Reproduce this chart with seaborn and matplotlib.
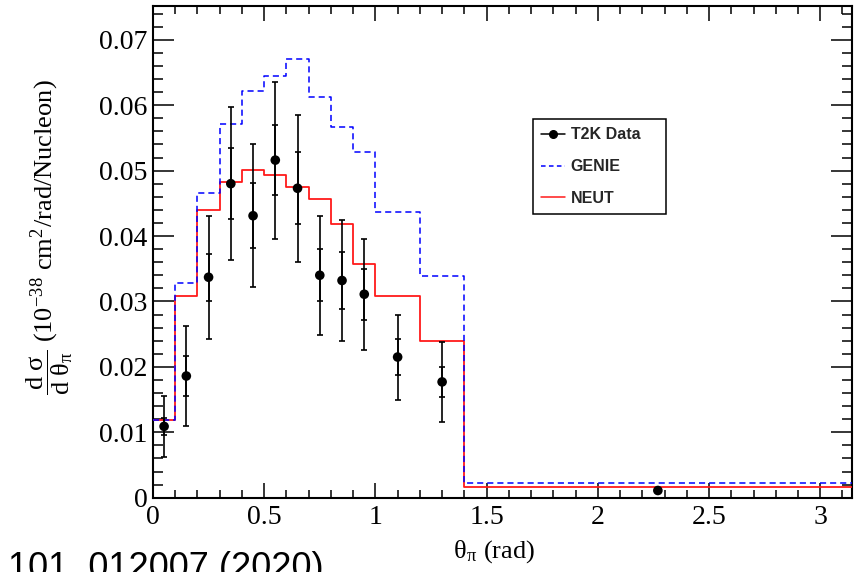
import numpy as np
import pandas as pd
import matplotlib
matplotlib.use("Agg")
import matplotlib.pyplot as plt
from matplotlib.lines import Line2D
from matplotlib.ticker import MultipleLocator, FuncFormatter
import seaborn as sns

# Pion-angle binning (rad)
bin_edges = [0.0, 0.1, 0.2, 0.3, 0.4, 0.5, 0.6, 0.7, 0.8, 0.9, 1.0, 1.2, 1.4, np.pi]

# Measured cross section at bin centres, with total and statistical errors
data_theta = [0.05, 0.15, 0.25, 0.35, 0.45, 0.55, 0.65, 0.75, 0.85, 0.95, 1.1, 1.3, 2.27]
data_xsec = [0.0109, 0.0186, 0.0337, 0.0480, 0.0431, 0.0516, 0.0473,
             0.0340, 0.0332, 0.0311, 0.0215, 0.0177, 0.0011]
data_err_total = [0.0047, 0.0077, 0.0094, 0.0117, 0.0109, 0.0120, 0.0112,
                  0.0091, 0.0092, 0.0085, 0.0065, 0.0061, 0.0003]
data_err_stat = [0.0013, 0.0030, 0.0036, 0.0054, 0.0050, 0.0054, 0.0055,
                 0.0040, 0.0043, 0.0039, 0.0028, 0.0023, 0.0002]

# Generator predictions per bin
genie_xsec = [0.0118, 0.0328, 0.0466, 0.0571, 0.0621, 0.0644, 0.0670,
              0.0613, 0.0567, 0.0529, 0.0436, 0.0339, 0.00225]
neut_xsec = [0.0118, 0.0309, 0.0440, 0.0483, 0.0501, 0.0494, 0.0475,
             0.0456, 0.0419, 0.0357, 0.0308, 0.0239, 0.00164]

series_labels = ["T2K Data", "GENIE", "NEUT"]

sns.set_theme(style="ticks")
plt.rcParams["font.family"] = ["Liberation Serif", "DejaVu Serif"]
plt.rcParams["mathtext.fontset"] = "stix"

fig = plt.figure(figsize=(8.56, 5.72), dpi=100)
ax = fig.add_axes([0.1787, 0.1299, 0.9950 - 0.1787, 0.9900 - 0.1299])

# Step histograms: repeat the last value so the final bin reaches the edge
steps = pd.DataFrame({
    "theta": bin_edges,
    "GENIE": genie_xsec + [genie_xsec[-1]],
    "NEUT": neut_xsec + [neut_xsec[-1]],
})
sns.lineplot(data=steps, x="theta", y="NEUT", drawstyle="steps-post",
             color="#ff1a1a", linewidth=1.3, ax=ax, zorder=3)
sns.lineplot(data=steps, x="theta", y="GENIE", drawstyle="steps-post",
             color="#0000ff", linewidth=1.1, ax=ax, zorder=4)
ax.lines[-1].set_dashes((4, 2.6))

# Data: total error bars, inner statistical markers, then points
ax.errorbar(data_theta, data_xsec, yerr=data_err_total, fmt="none",
            ecolor="black", elinewidth=1.2, capsize=2.2, capthick=1.2, zorder=5)
ax.errorbar(data_theta, data_xsec, yerr=data_err_stat, fmt="none",
            ecolor="black", elinewidth=1.2, capsize=2.2, capthick=1.2, zorder=5)
sns.scatterplot(x=data_theta, y=data_xsec, color="black", s=48,
                edgecolor="none", ax=ax, zorder=6)

ax.set_xlim(0, np.pi)
ax.set_ylim(0, 0.0752)

ax.xaxis.set_major_locator(MultipleLocator(0.5))
ax.xaxis.set_minor_locator(MultipleLocator(0.1))
ax.yaxis.set_major_locator(MultipleLocator(0.01))
ax.yaxis.set_minor_locator(MultipleLocator(0.002))
fmt = FuncFormatter(lambda v, p: "0" if abs(v) < 1e-12 else f"{v:g}")
ax.xaxis.set_major_formatter(fmt)
ax.yaxis.set_major_formatter(fmt)

ax.tick_params(which="both", direction="in", top=True, right=True,
               color="black", width=1.1, labelsize=20, labelcolor="black")
ax.tick_params(axis="y", which="major", length=15, pad=4)
ax.tick_params(axis="y", which="minor", length=7.2)
ax.tick_params(axis="x", which="major", length=10.5, pad=5)
ax.tick_params(axis="x", which="minor", length=5.6)
for sp in ax.spines.values():
    sp.set_linewidth(1.5)
    sp.set_color("black")

ax.set_xlabel(r"θ$_{\mathregular{π}}$ (rad)", fontsize=19, color="black")
ax.xaxis.set_label_coords(0.488, -0.082)
ax.set_ylabel(r"$\dfrac{\mathregular{d\ σ}}{\mathregular{d\ θ}_{\mathregular{π}}}$"
              r" (10$^{\mathregular{-38}}$ cm$^{\mathregular{2}}$/rad/Nucleon)",
              fontsize=19, color="black")
ax.yaxis.set_label_coords(-0.112, 0.53)

handles = [
    Line2D([], [], color="black", marker="o", markersize=5.5, linewidth=1.1),
    Line2D([], [], color="#0000ff", linewidth=1.1, dashes=(3, 2.2)),
    Line2D([], [], color="#ff1a1a", linewidth=1.1),
]
leg = ax.legend(handles, series_labels, loc="upper left",
                bbox_to_anchor=(0.544, 0.769, 0.190, 0.0), mode="expand",
                borderaxespad=0, frameon=True, fancybox=False, shadow=False,
                framealpha=1, edgecolor="black", handlelength=1.5,
                handletextpad=0.35, labelspacing=1.05, borderpad=0.5,
                prop={"family": "Liberation Sans", "weight": "bold", "size": 11.5})
leg.get_frame().set_linewidth(1.1)

fig.text(8 / 856, 1 - 550.5 / 572, "101, 012007 (2020)", ha="left", va="top",
         fontsize=26, family="Liberation Sans", color="black")

fig.savefig("out.png", dpi=100)
